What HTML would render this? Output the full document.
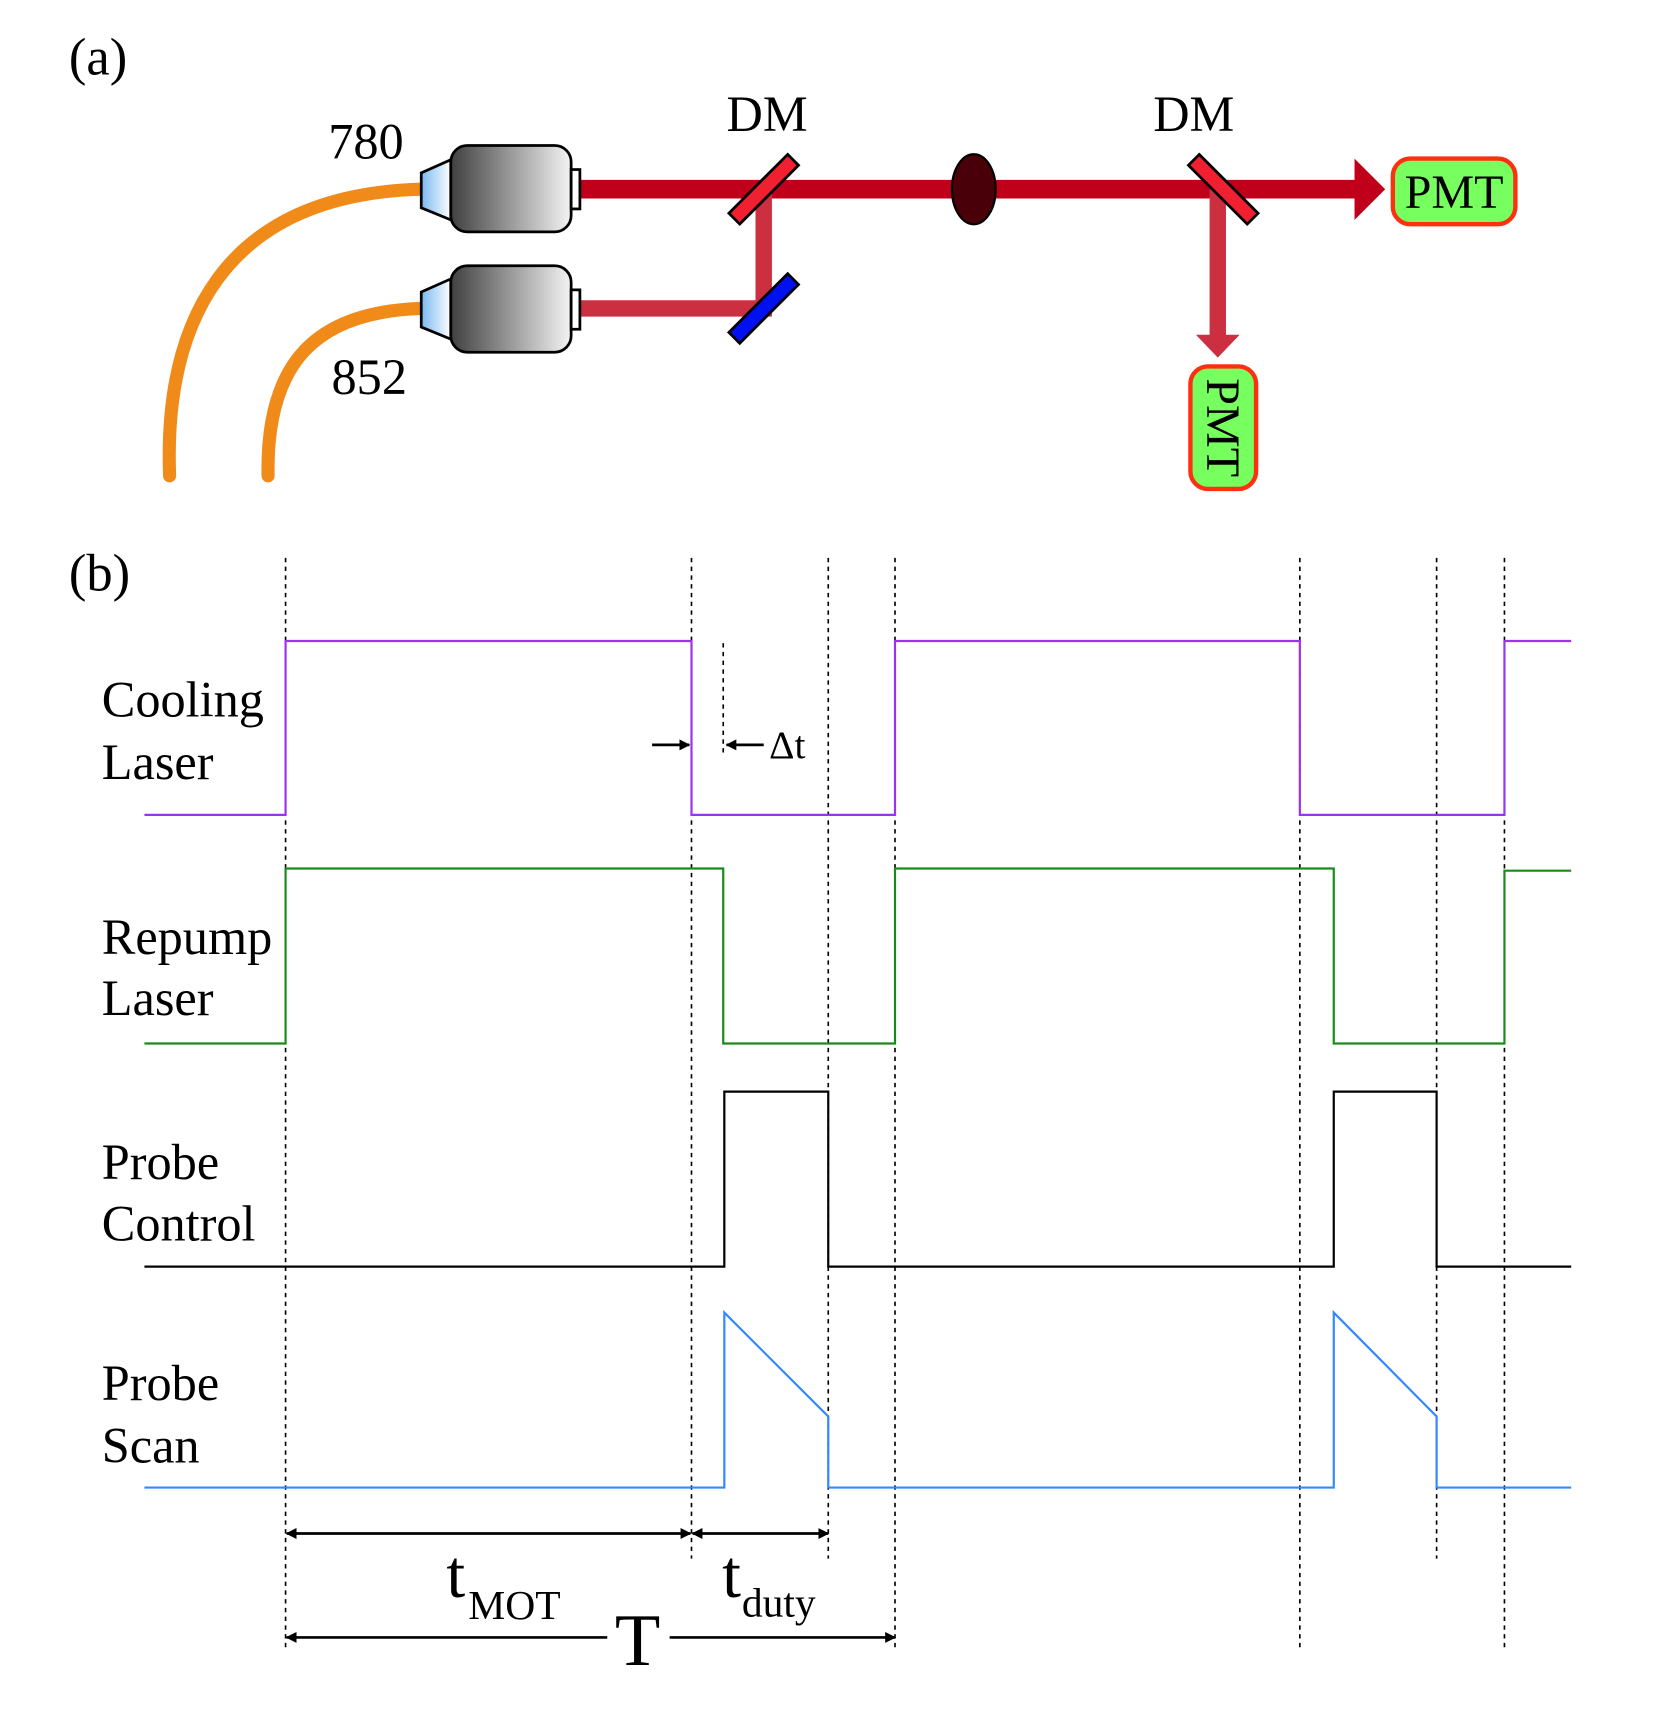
<!DOCTYPE html>
<html><head><meta charset="utf-8"><style>html,body{margin:0;padding:0;background:#fff}svg{display:block}</style></head>
<body>
<svg width="1662" height="1714" viewBox="0 0 1519 1567" preserveAspectRatio="none" xmlns="http://www.w3.org/2000/svg" font-family="Liberation Serif, serif">
<defs>
<linearGradient id="g" x1="0" x2="1" y1="0" y2="0"><stop offset="0" stop-color="#404040"/><stop offset="1" stop-color="#f4f4f4"/></linearGradient>
<linearGradient id="b" x1="0" x2="1"><stop offset="0" stop-color="#7ab8f0"/><stop offset="1" stop-color="#ffffff"/></linearGradient>
<marker id="ah" markerWidth="10" markerHeight="10" refX="9" refY="5" orient="auto-start-reverse" markerUnits="userSpaceOnUse"><path d="M0,0 L10,5 L0,10 Z" fill="#000"/></marker>
</defs>
<rect width="1530" height="1578" fill="#fff"/>
<text x="63" y="68" font-size="48">(a)</text>
<path d="M155,435 C150,300 200,178 385,173" fill="none" stroke="#f08a18" stroke-width="12" stroke-linecap="round"/>
<path d="M245,435 C243,330 290,285 385,282" fill="none" stroke="#f08a18" stroke-width="12" stroke-linecap="round"/>
<line x1="530" y1="173" x2="1240" y2="173" stroke="#c0001a" stroke-width="17"/>
<polygon points="1238,145 1266,173 1238,201" fill="#c0001a"/>
<polyline points="530,282 698,282 698,173" fill="none" stroke="#cc3040" stroke-width="15"/>
<line x1="1113" y1="173" x2="1113" y2="308" stroke="#cc3040" stroke-width="15"/>
<polygon points="1093,306 1133,306 1113,327" fill="#cc3040"/>
<g stroke="#000" stroke-width="2.5">
<polygon points="385,158 412,146 412,201 385,190" fill="url(#b)"/>
<rect x="412" y="133" width="110" height="79" rx="15" fill="url(#g)"/>
<rect x="522" y="155" width="8" height="36" fill="#fff"/>
<polygon points="385,267 412,255 412,310 385,299" fill="url(#b)"/>
<rect x="412" y="243" width="110" height="79" rx="15" fill="url(#g)"/>
<rect x="522" y="265" width="8" height="36" fill="#fff"/>
<rect x="660" y="166" width="76" height="14" fill="#f02030" transform="rotate(-45 698 173)"/>
<rect x="660" y="275" width="76" height="14" fill="#0010f0" transform="rotate(-45 698 282)"/>
<rect x="1080" y="166" width="76" height="14" fill="#f02030" transform="rotate(45 1118 173)"/>
</g>
<ellipse cx="890" cy="173" rx="20" ry="32" fill="#4a0008" stroke="#000" stroke-width="2"/>
<rect x="1273" y="145" width="112" height="60" rx="16" fill="#77ff5f" stroke="#ff3010" stroke-width="4"/>
<text x="1329" y="190" font-size="44" text-anchor="middle">PMT</text>
<rect x="1088" y="335" width="60" height="112" rx="16" fill="#77ff5f" stroke="#ff3010" stroke-width="4"/>
<text x="0" y="0" font-size="44" text-anchor="middle" transform="translate(1103 391) rotate(90)">PMT</text>
<text x="300" y="145" font-size="46">780</text>
<text x="303" y="360" font-size="46">852</text>
<text x="664" y="120" font-size="46">DM</text>
<text x="1054" y="120" font-size="46">DM</text>
<text x="63" y="540" font-size="48">(b)</text>
<g stroke="#000" stroke-width="1.5" stroke-dasharray="4,4">
<line x1="261" y1="510" x2="261" y2="1510"/>
<line x1="632" y1="510" x2="632" y2="1425"/>
<line x1="661" y1="588" x2="661" y2="690"/>
<line x1="757" y1="510" x2="757" y2="1425"/>
<line x1="818" y1="510" x2="818" y2="1510"/>
<line x1="1188" y1="510" x2="1188" y2="1510"/>
<line x1="1313" y1="510" x2="1313" y2="1425"/>
<line x1="1375" y1="510" x2="1375" y2="1510"/>
</g>
<g fill="none" stroke-width="2">
<path d="M132,745 H261 V586 H632 V745 H818 V586 H1188 V745 H1375 V586 H1436" stroke="#9933ee"/>
<path d="M132,954 H261 V794 H661 V954 H818 V794 H1219 V954 H1375 V796 H1436" stroke="#1a8a1a"/>
<path d="M132,1158 H662 V998 H757 V1158 H1219 V998 H1313 V1158 H1436" stroke="#000"/>
<path d="M132,1360 H662 V1200 L757,1295 V1360 H1219 V1200 L1313,1295 V1360 H1436" stroke="#3388ff"/>
</g>
<g font-size="46">
<text x="93" y="655">Cooling</text><text x="93" y="712">Laser</text>
<text x="93" y="872">Repump</text><text x="93" y="928">Laser</text>
<text x="93" y="1078">Probe</text><text x="93" y="1134">Control</text>
<text x="93" y="1280">Probe</text><text x="93" y="1337">Scan</text>
</g>
<g stroke="#000" stroke-width="2.5">
<line x1="596" y1="681" x2="630" y2="681" marker-end="url(#ah)"/>
<line x1="698" y1="681" x2="664" y2="681" marker-end="url(#ah)"/>
<line x1="262" y1="1402" x2="631" y2="1402" marker-start="url(#ah)" marker-end="url(#ah)"/>
<line x1="633" y1="1402" x2="757" y2="1402" marker-start="url(#ah)" marker-end="url(#ah)"/>
<line x1="555" y1="1497" x2="262" y2="1497" marker-end="url(#ah)"/>
<line x1="612" y1="1497" x2="818" y2="1497" marker-end="url(#ah)"/>
</g>
<text x="703" y="693" font-size="36">Δt</text>
<text x="408" y="1460" font-size="62">t</text><text x="428" y="1480" font-size="38">MOT</text>
<text x="660" y="1460" font-size="62">t</text><text x="678" y="1478" font-size="38">duty</text>
<text x="562" y="1522" font-size="68">T</text>
</svg>
</body></html>
